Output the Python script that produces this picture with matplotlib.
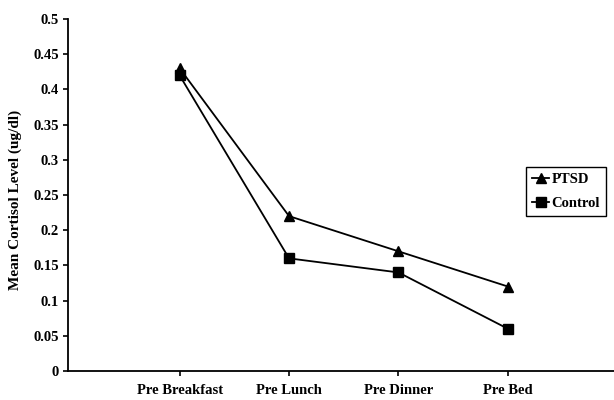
import matplotlib
matplotlib.use("Agg")
import matplotlib.pyplot as plt

categories = ["Pre Breakfast", "Pre Lunch", "Pre Dinner", "Pre Bed"]
ptsd = [0.43, 0.22, 0.17, 0.12]
control = [0.42, 0.16, 0.14, 0.06]
yticks = [0, 0.05, 0.1, 0.15, 0.2, 0.25, 0.3, 0.35, 0.4, 0.45, 0.5]
ytick_labels = ["0", "0.05", "0.1", "0.15", "0.2", "0.25", "0.3", "0.35", "0.4", "0.45", "0.5"]

plt.rcParams["font.family"] = ["Liberation Serif", "DejaVu Serif"]
plt.rcParams["font.weight"] = "bold"

fig = plt.figure(figsize=(6.14, 4.0), dpi=100)
ax = fig.add_axes([68 / 614, 29 / 400, 1 - 68 / 614, 352 / 400])

x = list(range(len(categories)))
ax.plot(x, ptsd, color="black", lw=1.3, marker="^", ms=7.5, label="PTSD")
ax.plot(x, control, color="black", lw=1.3, marker="s", ms=6.5, label="Control")

ax.set_xlim(-1.02, 3.97)
ax.set_ylim(0, 0.5)
ax.set_xticks(x)
ax.set_xticklabels(categories, fontsize=10.5, fontweight="bold")
ax.set_yticks(yticks)
ax.set_yticklabels(ytick_labels, fontsize=10.5, fontweight="bold")
ax.tick_params(axis="both", direction="out", length=3.5, width=1.2, colors="black")
ax.tick_params(axis="x", pad=6)
ax.tick_params(axis="y", pad=3)

for s in ["top", "right"]:
    ax.spines[s].set_visible(False)
for s in ["left", "bottom"]:
    ax.spines[s].set_linewidth(1.3)

ax.set_ylabel("Mean Cortisol Level (ug/dl)", fontsize=11, fontweight="bold")
ax.yaxis.set_label_coords(-0.084, 0.486)

leg = ax.legend(loc="upper left", bbox_to_anchor=((526 - 68) / 546, (371 - 167) / 352),
                frameon=True, fancybox=False, edgecolor="black", framealpha=1,
                prop={"size": 10.5, "weight": "bold"}, handlelength=1.2,
                borderpad=0.4, labelspacing=0.75, handletextpad=0.15, borderaxespad=0)
leg.get_frame().set_linewidth(1.0)

fig.savefig("out.png", dpi=100)
